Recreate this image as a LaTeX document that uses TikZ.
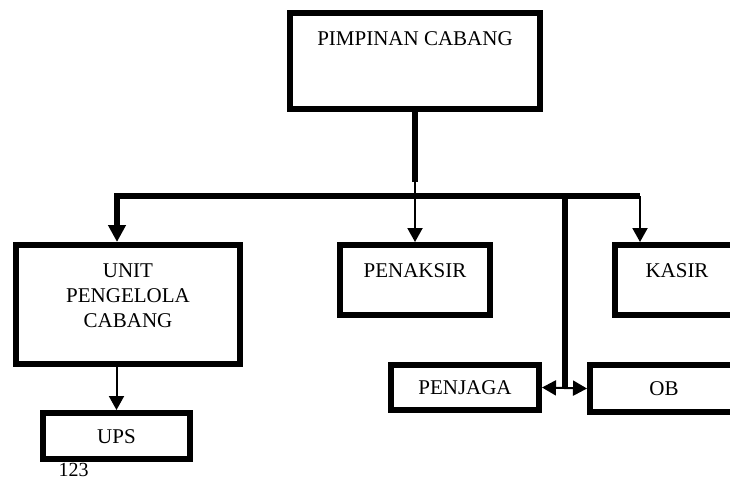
\documentclass[tikz,border=0pt]{standalone}
\usepackage{fontspec}
\setmainfont{Liberation Serif}
\usetikzlibrary{arrows.meta}

\tikzset{
  unitbox/.style={draw, line width=6pt, inner sep=0pt, align=center, text height=14pt, text depth=0pt},
  thickline/.style={line width=5.5pt},
  thinline/.style={line width=2pt},
  bigarrow/.style={-{Triangle[width=17pt,length=17pt]}},
  smallarrow/.style={-{Triangle[width=15pt,length=14pt]}},
}

\begin{document}
\begin{tikzpicture}[x=1pt, y=-1pt, font=\fontsize{21}{25}\selectfont]
\useasboundingbox (0,0) rectangle (730,480);
% boxes
\node[unitbox, minimum width=250pt, minimum height=96pt, text depth=46pt] (pimpinan) at (415,61) {PIMPINAN CABANG};
\node[unitbox, minimum width=150pt, minimum height=70pt, text depth=20pt] (penaksir) at (415,280) {PENAKSIR};
\node[unitbox, minimum width=124pt, minimum height=70pt, text depth=20pt] (kasir) at (677,280) {KASIR};
\node[unitbox, minimum width=224pt, minimum height=119pt, text height=64pt, text depth=19pt] (unit) at (128,304.5) {UNIT\\PENGELOLA\\CABANG};
\node[unitbox, minimum width=147pt, minimum height=46pt] (ups) at (116.5,436) {UPS};
\node[unitbox, minimum width=148pt, minimum height=45pt] (penjaga) at (465,387.5) {PENJAGA};
\node[unitbox, minimum width=148pt, minimum height=47pt] (ob) at (664,388.5) {OB};
\node[anchor=base west, font=\fontsize{20}{24}\selectfont] (hal) at (55,476) {123};
% bus
\coordinate (busL) at (117,196);
\coordinate (busM) at (565,196);
\coordinate (busR) at (640,196);
\draw[thickline] (pimpinan.south) -- ++(0,70) coordinate (drop);
\draw[thinline, smallarrow] (drop) -- (penaksir.north);
\draw[thickline, bigarrow] (busR) -- (busL) -- (busL |- unit.north);
\draw[thinline, smallarrow] (busR) -- (busR |- kasir.north);
\draw[thickline] (busM) -- (busM |- penjaga.east);
\draw[thinline, {Triangle[width=15pt,length=14pt]}-{Triangle[width=15pt,length=14pt]}] (penjaga.east) -- (ob.west);
\draw[thinline, smallarrow] (ups.north |- unit.south) -- (ups.north);
\end{tikzpicture}
\end{document}
